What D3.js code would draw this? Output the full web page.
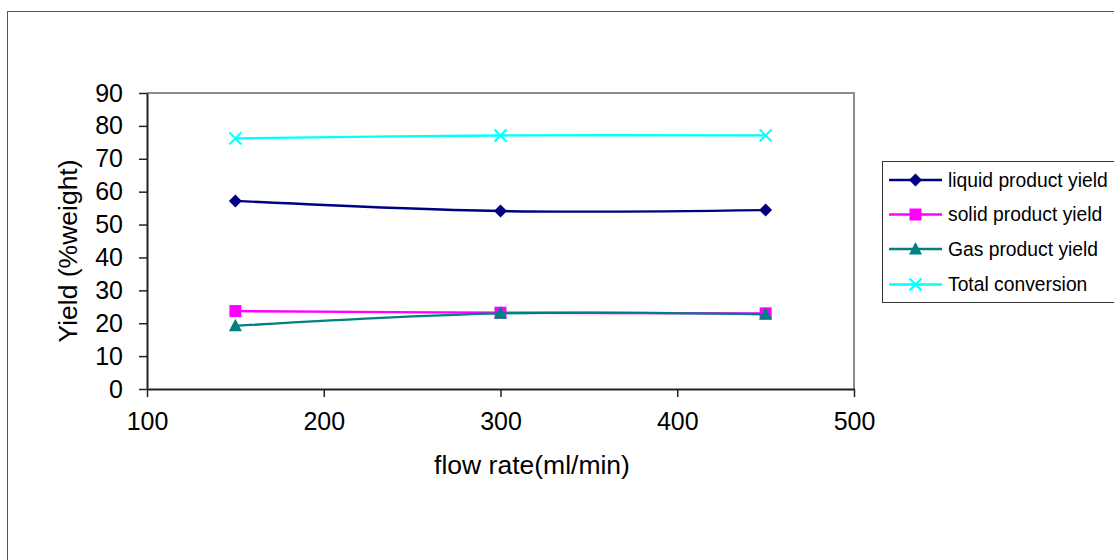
<!DOCTYPE html>
<html>
<head>
<meta charset="utf-8">
<script src="https://cdn.jsdelivr.net/npm/d3@7"></script>
<style>
  body { margin: 0; background: #fff; }
  text { font-family: Arial, "Liberation Sans", sans-serif; fill: #000; }
</style>
</head>
<body>
<script>
const flowRates = [150, 300, 450];
const liquidYield = [57.2, 54.1, 54.4];
const solidYield = [23.7, 23.2, 23.0];
const gasYield = [19.2, 23.0, 22.7];
const totalConversion = [76.2, 77.1, 77.1];

const seriesNames = ['liquid product yield', 'solid product yield', 'Gas product yield', 'Total conversion'];
const xTicks = [100, 200, 300, 400, 500];
const yTicks = [0, 10, 20, 30, 40, 50, 60, 70, 80, 90];

const W = 1114, H = 560;
const plot = {left: 147, top: 93, right: 854, bottom: 389};

const svg = d3.select('body')
    .append('svg')
    .attr('width', W)
    .attr('height', H);

// outer chart border (runs off the right and bottom edges)
svg.append('rect')
    .attr('x', 7.5).attr('y', 11.5)
    .attr('width', W + 20).attr('height', H + 20)
    .attr('fill', 'none')
    .attr('stroke', '#555')
    .attr('stroke-width', 1);

const x = d3.scaleLinear().domain([100, 500]).range([plot.left, plot.right]);
const y = d3.scaleLinear().domain([0, 90]).range([plot.bottom, plot.top]);

// grey top / right frame of plot area
svg.append('path')
    .attr('d', `M${plot.left},${plot.top}H${plot.right}V${plot.bottom}`)
    .attr('fill', 'none')
    .attr('stroke', '#8c8c8c')
    .attr('stroke-width', 2);

const xAxis = d3.axisBottom(x).tickValues(xTicks).tickSize(8).tickSizeOuter(0).tickPadding(15);
const yAxis = d3.axisLeft(y).tickValues(yTicks).tickSize(8).tickSizeOuter(0).tickPadding(16);

const gX = svg.append('g')
    .attr('transform', 'translate(0,' + plot.bottom + ')')
    .call(xAxis);
const gY = svg.append('g')
    .attr('transform', 'translate(' + plot.left + ',0)')
    .call(yAxis);

[gX, gY].forEach(g => {
    g.select('.domain').attr('stroke', '#222').attr('stroke-width', 2);
    g.selectAll('.tick line').attr('stroke', '#222').attr('stroke-width', 1.5);
    g.selectAll('.tick text')
        .attr('fill', '#000')
        .style('font-size', '25px')
        .style('font-family', 'Arial, "Liberation Sans", sans-serif');
});

// axis titles
svg.append('text')
    .attr('x', 532).attr('y', 474)
    .attr('text-anchor', 'middle')
    .style('font-size', '26.5px')
    .text('flow rate(ml/min)');

svg.append('text')
    .attr('transform', 'translate(77,251) rotate(-90)')
    .attr('text-anchor', 'middle')
    .style('font-size', '26.5px')
    .text('Yield (%weight)');

const series = [
    {name: seriesNames[0], values: liquidYield, color: '#000080', marker: 'diamond'},
    {name: seriesNames[1], values: solidYield, color: '#ff00ff', marker: 'square'},
    {name: seriesNames[2], values: gasYield, color: '#008080', marker: 'triangle'},
    {name: seriesNames[3], values: totalConversion, color: '#00ffff', marker: 'cross'}
];

const line = d3.line()
    .x(d => x(d[0]))
    .y(d => y(d[1]))
    .curve(d3.curveCatmullRom.alpha(0));

const drawMarker = (g, type, color) => {
    if (type === 'diamond') {
        g.append('path').attr('d', 'M0,-6.5L6.5,0L0,6.5L-6.5,0Z').attr('fill', color);
    } else if (type === 'square') {
        g.append('rect').attr('x', -6).attr('y', -6).attr('width', 12).attr('height', 12).attr('fill', color);
    } else if (type === 'triangle') {
        g.append('path').attr('d', 'M0,-7L6.5,5.5L-6.5,5.5Z').attr('fill', color);
    } else {
        g.append('path').attr('d', 'M-6,-6L6,6M6,-6L-6,6')
            .attr('stroke', color).attr('stroke-width', 2).attr('fill', 'none');
    }
};

series.forEach(s => {
    const pts = flowRates.map((f, i) => [f, s.values[i]]);
    svg.append('path')
        .datum(pts)
        .attr('d', line)
        .attr('fill', 'none')
        .attr('stroke', s.color)
        .attr('stroke-width', 2.4);
    pts.forEach(p => {
        const g = svg.append('g').attr('transform', `translate(${x(p[0])},${y(p[1])})`);
        drawMarker(g, s.marker, s.color);
    });
});

// legend
const legend = svg.append('g');
legend.append('rect')
    .attr('x', 882.5).attr('y', 161.5)
    .attr('width', 300).attr('height', 141)
    .attr('fill', '#fff')
    .attr('stroke', '#333')
    .attr('stroke-width', 1);

const rowY = [180, 214.5, 249, 284.5];
series.forEach((s, i) => {
    const g = legend.append('g').attr('transform', `translate(0,${rowY[i]})`);
    g.append('line')
        .attr('x1', 889).attr('x2', 942)
        .attr('y1', 0).attr('y2', 0)
        .attr('stroke', s.color)
        .attr('stroke-width', 2.4);
    const m = g.append('g').attr('transform', 'translate(915.5,0)');
    drawMarker(m, s.marker, s.color);
    g.append('text')
        .attr('x', 948).attr('y', 0)
        .attr('dy', '0.35em')
        .style('font-size', '19.3px')
        .text(s.name);
});
</script>
</body>
</html>
